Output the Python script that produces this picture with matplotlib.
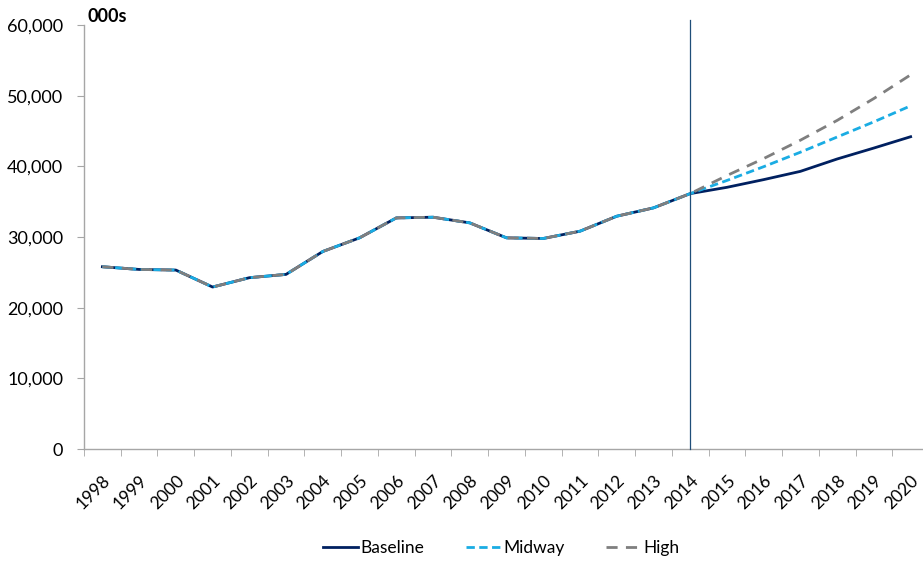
import numpy as np
import matplotlib as mpl
mpl.use('Agg')
import matplotlib.pyplot as plt
from matplotlib.transforms import ScaledTranslation

plt.rcParams['font.family'] = ['Lato', 'DejaVu Sans']

# Years and series (000s)
years = [str(y) for y in range(1998, 2021)]
history = [25790, 25410, 25320, 22920, 24240, 24710, 27950, 29880, 32700,
           32800, 32000, 29880, 29790, 30820, 32940, 34120, 36140]
baseline_proj = [37030, 38120, 39290, 41040, 42590, 44190]
midway_proj = [38000, 39950, 42000, 44150, 46300, 48560]
high_proj = [38700, 41100, 43700, 46500, 49600, 52950]

baseline = history + baseline_proj
midway = history + midway_proj
high = history + high_proj
split_year = 2014

x = np.arange(len(years))

fig = plt.figure(figsize=(9.23, 5.62), dpi=100)
ax = fig.add_axes([84/923, 1 - 449/562, 845/923, 424/562])

ax.plot(x, baseline, color='#002060', lw=2.0, label='Baseline', zorder=3)
ax.plot(x, midway, color='#1AACE3', lw=2.0, dashes=(3, 1.6), label='Midway', zorder=4)
ax.plot(x, high, color='#7F7F7F', lw=2.0, dashes=(4, 3), label='High', zorder=5)

# marker for start of projections
sx = years.index(str(split_year))
ax.plot([sx, sx], [0, 60700], color='#1F4E79', lw=0.9, clip_on=False, zorder=6)

ax.set_xlim(-0.5, len(years) - 0.5)
ax.set_ylim(0, 60000)
ax.set_yticks(np.arange(0, 60001, 10000))
ax.set_yticklabels([f'{v:,}' for v in range(0, 60001, 10000)], fontsize=13)
ax.set_xticks(x)
ax.set_xticklabels(years, rotation=45, ha='right', rotation_mode='anchor', fontsize=12.5)
shift = ScaledTranslation(3/100, 0, fig.dpi_scale_trans)
for lab in ax.get_xticklabels():
    lab.set_transform(lab.get_transform() + shift)
ax.set_xticks(np.arange(-0.5, len(years)), minor=True)
ax.tick_params(axis='x', which='major', length=0, pad=17)
ax.tick_params(axis='x', which='minor', length=5, color='#A6A6A6')
ax.tick_params(axis='y', length=5, color='#A6A6A6', pad=10)

for side in ['top', 'right']:
    ax.spines[side].set_visible(False)
for side in ['left', 'bottom']:
    ax.spines[side].set_color('#A6A6A6')
    ax.spines[side].set_linewidth(1.0)

fig.text(88/923, 1 - 16/562, '000s', fontsize=13, fontweight='bold', va='center', ha='left')

fig.legend(loc='center', bbox_to_anchor=(0.543, 0.025), ncol=3, frameon=False,
           fontsize=12.5, handlelength=2.0, columnspacing=2.4, handletextpad=0.15)

fig.savefig('out.png', dpi=100)
